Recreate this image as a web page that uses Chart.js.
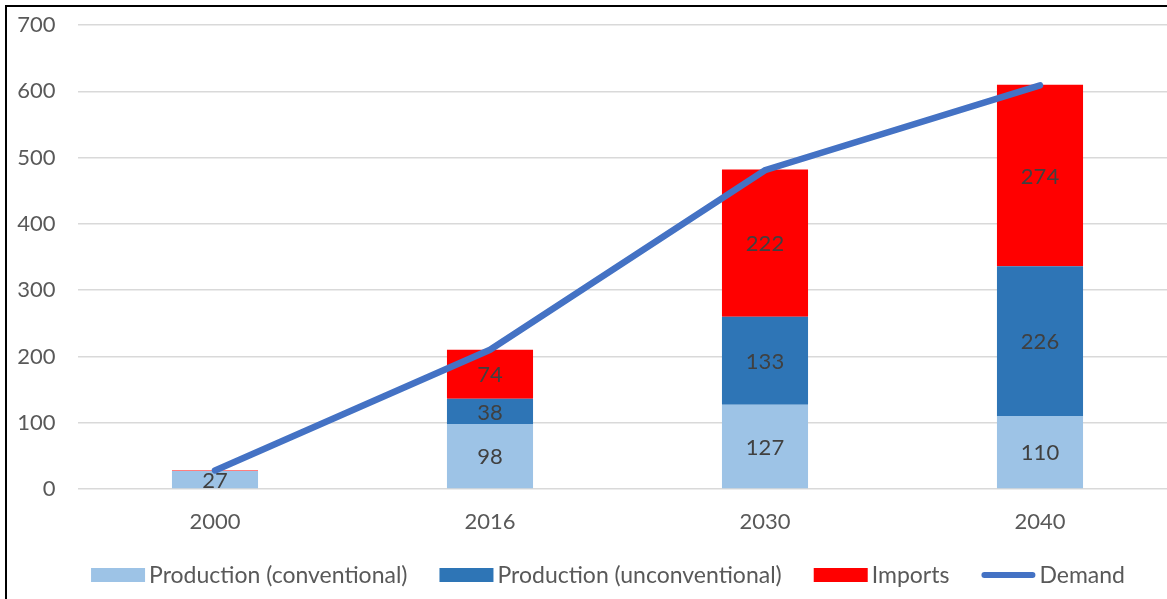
<!DOCTYPE html>
<html>
<head>
<meta charset="utf-8">
<script src="https://cdn.jsdelivr.net/npm/chart.js@4/dist/chart.umd.min.js"></script>
<style>
  html, body { margin: 0; padding: 0; background: #fff; overflow: hidden; }
  #frame {
    position: absolute; left: 5px; top: 5px; width: 1300px; height: 700px;
    border-left: 2px solid #000; border-top: 2px solid #000;
  }
  #c { position: absolute; left: 7px; top: 7px; }
</style>
</head>
<body>
<div id="frame"></div>
<canvas id="c" width="1202" height="592"></canvas>
<script>
const years = ["2000", "2016", "2030", "2040"];
const conventional = [27, 98, 127, 110];
const unconventional = [0, 38, 133, 226];
const imports = [1, 74, 222, 274];
const demand = [28, 210, 481, 609];

const FONT = "Lato, 'Liberation Sans', sans-serif";
const textGray = "#595959";

// numbers in the middle of each bar segment
const barLabels = {
  id: "barLabels",
  afterDatasetDraw(chart, args) {
    const ds = chart.data.datasets[args.index];
    if (ds.type !== "bar") return;
    const ctx = chart.ctx;
    ctx.save();
    ctx.font = "22px " + FONT;
    ctx.fillStyle = "#404040";
    ctx.textAlign = "center";
    ctx.textBaseline = "middle";
    args.meta.data.forEach(function (bar, i) {
      const v = ds.data[i];
      if (v < 5) return;
      ctx.fillText(v, bar.x, (bar.y + bar.base) / 2 + 1);
    });
    ctx.restore();
  }
};

// legend row under the axis, bars first then the demand line
const bottomLegend = {
  id: "bottomLegend",
  afterDraw(chart) {
    const ctx = chart.ctx;
    const order = [1, 2, 3, 0];
    const y = 568;
    ctx.save();
    ctx.font = "23px " + FONT;
    ctx.textBaseline = "middle";
    const items = order.map(function (i) {
      const ds = chart.data.datasets[i];
      return { ds: ds, w: ctx.measureText(ds.label).width };
    });
    const markW = 54, gapText = 4, gapItem = 32;
    let total = 0;
    items.forEach(function (it, k) { total += markW + gapText + it.w + (k ? gapItem : 0); });
    let x = 601 - total / 2;
    items.forEach(function (it) {
      if (it.ds.type === "line") {
        ctx.strokeStyle = it.ds.borderColor;
        ctx.lineWidth = 6;
        ctx.lineCap = "round";
        ctx.beginPath();
        ctx.moveTo(x + 3, y);
        ctx.lineTo(x + markW - 3, y);
        ctx.stroke();
      } else {
        ctx.fillStyle = it.ds.backgroundColor;
        ctx.fillRect(x, y - 7, markW, 14);
      }
      x += markW + gapText;
      ctx.fillStyle = textGray;
      ctx.fillText(it.ds.label, x, y + 1);
      x += it.w + gapItem;
    });
    ctx.restore();
  }
};

new Chart(document.getElementById("c"), {
  data: {
    labels: years,
    datasets: [
      {
        type: "line",
        label: "Demand",
        data: demand,
        borderColor: "#4472C4",
        backgroundColor: "#4472C4",
        borderWidth: 6.5,
        borderCapStyle: "round",
        pointRadius: 0,
        tension: 0,
        order: 0
      },
      {
        type: "bar",
        label: "Production (conventional)",
        data: conventional,
        backgroundColor: "#9DC3E6",
        stack: "s",
        order: 1
      },
      {
        type: "bar",
        label: "Production (unconventional)",
        data: unconventional,
        backgroundColor: "#2E75B6",
        stack: "s",
        order: 1
      },
      {
        type: "bar",
        label: "Imports",
        data: imports,
        backgroundColor: "#FF0000",
        stack: "s",
        order: 1
      }
    ]
  },
  options: {
    responsive: false,
    animation: false,
    devicePixelRatio: 1,
    datasets: { bar: { barPercentage: 1, categoryPercentage: 0.313 } },
    layout: { padding: { top: 18, right: 31.5, bottom: 43.6, left: 0 } },
    scales: {
      x: {
        stacked: true,
        grid: { display: false, drawTicks: false },
        border: { display: false },
        ticks: { color: textGray, font: { family: FONT, size: 22 }, padding: 20 }
      },
      y: {
        stacked: true,
        min: 0,
        max: 700,
        grid: { color: "#D9D9D9", lineWidth: 1.5, drawTicks: false },
        border: { display: false },
        ticks: { stepSize: 100, color: textGray, font: { family: FONT, size: 22 }, padding: 22 },
        afterFit(scale) {
          scale.width = 70.5;
          scale.paddingTop = 0;
          scale.paddingBottom = 0;
        }
      }
    },
    plugins: {
      tooltip: { enabled: false },
      legend: { display: false }
    }
  },
  plugins: [barLabels, bottomLegend]
});
</script>
</body>
</html>
